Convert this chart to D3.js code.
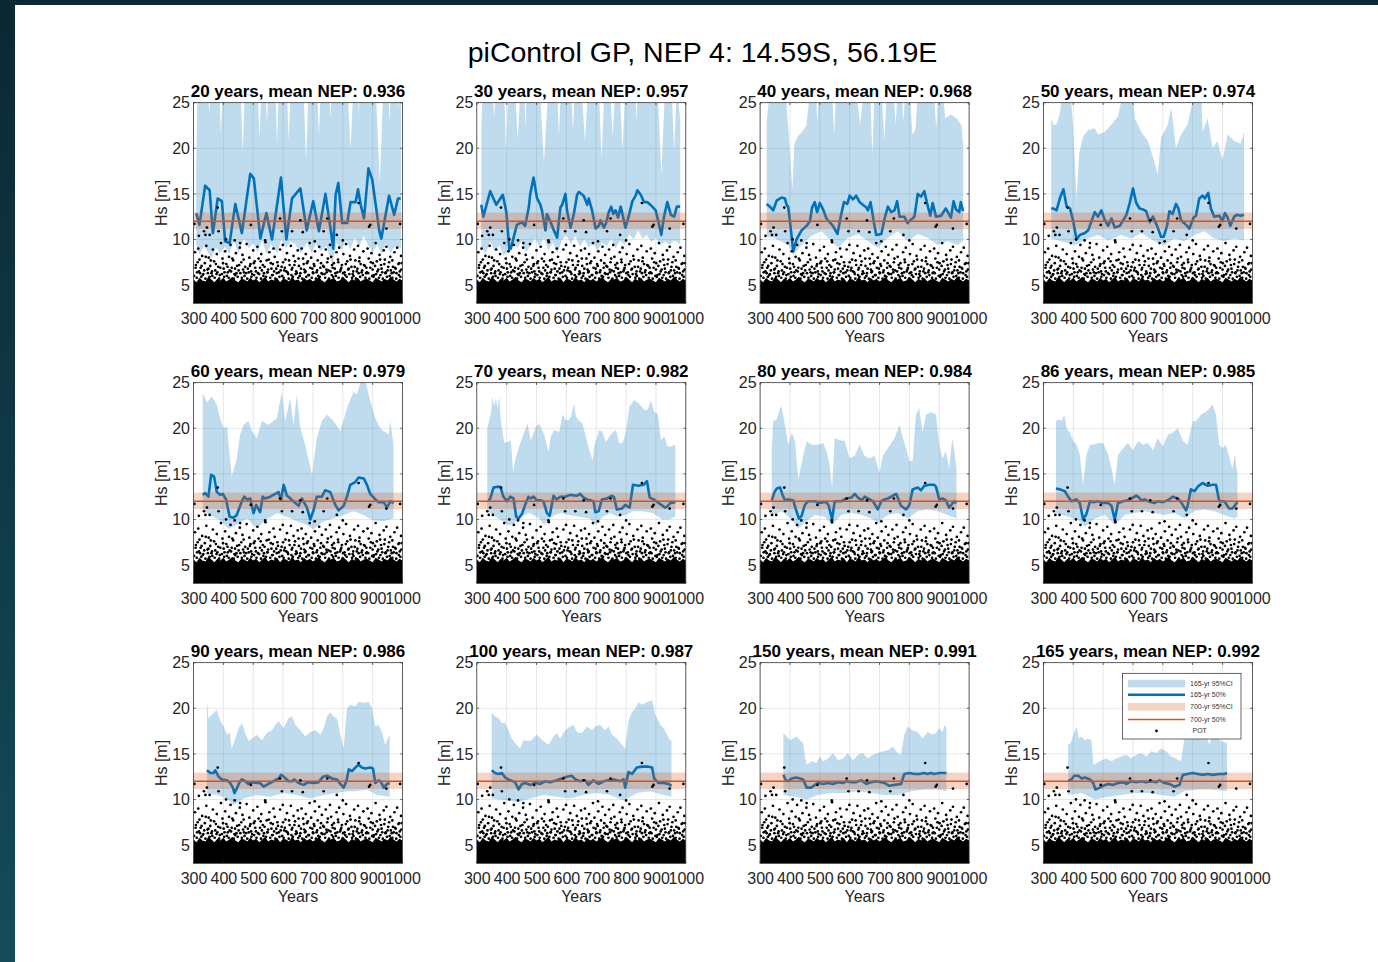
<!DOCTYPE html>
<html><head><meta charset="utf-8">
<script src="https://cdn.jsdelivr.net/npm/d3@7"></script>
<style>
html,body{margin:0;padding:0;background:#fff;}
svg{display:block;font-family:"Liberation Sans",Arial,Helvetica,sans-serif;}
</style></head><body>
<svg id="c" width="1378" height="962"></svg>
<script>
// ---------------- DATA ----------------
const figTitle = "piControl GP, NEP 4: 14.59S, 56.19E";
const windowYears = [20,30,40,50,60,70,80,86,90,100,150,165];
const meanNEP = [0.936,0.957,0.968,0.974,0.979,0.982,0.984,0.985,0.986,0.987,0.991,0.992];
const xTickValues = [300,400,500,600,700,800,900,1000];
const yTickValues = [5,10,15,20,25];
const ci700 = [11.15, 12.95];   // 700-yr 95%CI
const med700 = 12.0;            // 700-yr 50%
const legendLabels = ["165-yr 95%CI","165-yr 50%","700-yr 95%CI","700-yr 50%","POT"];

// 20 yr
const yrMed20=[309,320,339,354,365,381,395,406,421,440,462,490,502,524,544,563,593,611,630,658,679,701,720,742,757,768,776,785,798,815,826,843,851,860,871,886,899,922,929,955,972,985,994];
const med20=[12.9,11.6,15.9,15.4,10.7,14.5,14.2,9.8,9.6,13.9,10.7,17.2,16.7,10.1,12.9,10,16.8,10,14.5,15.6,11,14.2,10.9,15,11.6,9,14.9,16.2,11.8,11.8,14.1,14.1,15.5,13.8,12.3,17.8,16.5,11,10.1,14.8,12.7,14.5,14.5];
const yrUp20=[309,314,348,353,358,386,392,398,457,465,472,514,521,528,541,546,551,574,580,586,612,619,626,668,677,686,713,720,727,754,759,764,815,826,836,850,854,858,910,924,936,952,957,962,983,987,991,995];
const up20=[18,27,27,23.7,27,27,21.5,27,27,19.5,27,27,21.1,27,27,22.6,27,27,20.4,27,27,20.8,27,27,18.6,27,27,21.5,27,27,23.3,27,27,20,27,27,23.9,27,27,16.2,27,27,22.9,27,27,24.4,27,26];
const yrLo20=[309,320,335,345,360,375,390,405,420,435,450,470,485,500,515,530,545,560,580,595,610,625,640,660,680,695,710,725,745,765,780,795,810,825,840,855,870,885,900,915,930,945,960,975,995];
const lo20=[9.4,8.3,9.3,8.8,7.9,9.1,8.5,9.2,8.4,9.9,8.5,10.1,9,9.6,8.6,9.9,8.4,9.5,8.5,10,9,9.8,9.5,8.5,9.7,8.5,9.5,8.7,9.3,7.2,9.7,8.8,9.9,8.9,10.2,9.2,10.4,9.4,8.6,9.4,8.4,9.6,8.5,9.3,9];
// 30 yr
const yrMed30=[315,322,345,365,387,399,409,414,434,451,462,474,479,490,502,513,518,530,535,546,558,569,580,586,597,602,614,625,636,642,658,670,675,686,698,709,714,726,734,742,750,757,765,773,782,798,810,821,832,838,849,860,871,888,899,910,918,927,938,950,961,970,981];
const med30=[13.8,12.5,15.3,13.8,14.9,13,8.9,9,11.6,11.9,11.5,13.5,15,16.8,14.5,13.8,13.2,11,12.8,12,11,10.2,13.5,13.8,15,13.2,11.3,12.8,14.9,15.2,14.8,13.8,14.5,13.2,11.2,11.5,12.1,11.3,11.9,13,13.6,12.8,13.2,12.4,13.6,11.3,12.7,14.2,14.8,15.4,14.9,14.1,14.1,13.6,13.2,11.7,10.5,12.5,14.1,12.7,12.5,13.6,13.6];
const yrUp30=[315,320,352,358,364,391,398,405,427,437,447,458,463,468,510,525,540,568,575,582,615,622,629,650,662,674,708,718,728,745,755,765,778,788,798,830,835,840,905,918,931,952,961,970,981];
const up30=[22,27,27,23.3,27,27,19.5,27,27,21,27,27,22.2,27,27,18.5,27,27,21.4,27,27,22,27,27,20.8,27,27,18.8,27,27,21.4,27,27,19.8,27,27,23,27,27,17.1,27,27,19.8,27,23.2];
const yrLo30=[315,330,345,360,375,390,405,420,435,450,465,480,495,510,525,540,555,570,585,600,615,630,645,660,675,690,705,720,735,750,765,780,795,810,825,840,855,870,885,900,915,930,945,960,981];
const lo30=[9.1,8.4,9.8,8.6,9.4,8.2,8.8,9.9,9,9.8,8.6,9.3,10.1,9.2,10.2,8.8,9.7,8.5,9.9,10.5,9.5,10.4,9.2,10,9.1,9.6,8.8,9.7,9.2,10.1,9,9.9,9.4,10.6,10,11,10.1,10.5,9.7,10.2,9.3,9.8,9.4,9.9,9.5];
// 40 yr
const yrMed40=[322,333,344,356,372,383,389,394,400,411,422,439,456,467,474,483,491,500,511,522,533,544,559,570,581,592,600,611,622,633,644,656,661,670,681,689,706,717,728,739,750,759,767,783,794,806,817,828,839,850,859,870,878,889,906,922,939,948,956,967,972,980];
const med40=[13.9,13.6,13.2,14.3,14.6,14.5,13.8,13.6,12,8.7,10,11,11.5,12,13.5,14.1,13,14,13.3,12.3,11.9,11.5,10.6,12.5,14.1,13.9,14.8,14.4,14.8,14.1,13.8,13.5,13.2,14.1,11.9,10.5,10.6,12.3,13.6,13,13.2,14.2,12.5,12.5,11.8,12.2,12.5,15,14.7,15.3,14,12.6,14,12.5,12.6,13.4,12.4,14.2,13.3,13,14.1,13.1];
const yrUp40=[322,330,339,383,395,408,415,428,440,455,470,485,492,498,540,548,556,620,635,650,668,676,684,706,716,726,745,754,762,772,780,788,800,810,820,830,880,890,898,910,920,940,960,975,980];
const up40=[23,25.5,27,27,22,15.5,20.5,21.4,21.8,22.5,27,27,22.8,27,27,21.5,27,27,22.6,27,27,19.3,27,27,20.8,27,27,22.6,27,27,23,27,27,21.5,22,27,27,22.2,27,27,23.3,23.7,23.2,22.5,20.3];
const yrLo40=[322,350,394,411,439,472,506,539,561,594,628,661,694,728,761,794,828,861,894,928,961,980];
const lo40=[10.3,10.1,9.4,8.3,9.4,10.4,10.9,9.8,9.1,10.2,10.6,9.8,9.1,10.2,10.9,9.8,10.6,10.2,9.4,9.8,9.4,9.8];
// 50 yr
const yrMed50=[326,333,344,356,367,378,389,400,411,422,439,450,461,472,483,494,506,517,528,539,556,567,578,589,600,611,622,633,644,656,667,683,694,703,714,722,733,744,752,761,778,789,803,811,822,833,841,852,861,872,889,900,908,917,926,939,948,961,972];
const med50=[13.4,13.4,13.2,14.6,15.5,13.6,13.4,12,10,10.5,10.7,11,12,13,12.5,13.2,12.1,11.5,12.3,11.3,11.5,12.1,12.7,14,15.6,14,13.4,13.3,13.1,11.9,12.5,11.3,10.3,10.3,11.5,13.1,12.8,13.9,13.4,12.1,11.6,11.2,12.4,12.6,14.5,14.8,14.5,15.1,13.4,12.5,12.6,12,12.9,12.4,11.5,12.5,12.7,12.6,12.7];
const yrUp50=[326,335,345,356,367,389,400,411,420,433,450,472,483,506,528,550,572,595,606,628,650,672,683,694,717,728,744,761,783,811,828,833,850,867,883,900,917,939,961,972];
const up50=[23.3,22.5,22.7,24,27,27,22,14.5,19.5,21.3,22,22.2,21.5,21.8,22.6,23.5,27,27,23.3,21.8,20.8,18.5,17.1,21.2,22.6,24.5,20,21.5,22.6,27,27,21.8,23.3,20,20.8,18.7,21.5,20.8,20.5,21.8];
const yrLo50=[326,406,450,483,517,561,594,628,672,706,739,772,806,839,872,906,939,972];
const lo50=[10.1,9.4,10.1,10.5,9.9,10.5,10.1,10.7,9.8,9.4,10.1,9.8,10.5,10.9,10.1,9.8,10.1,9.9];
// 60 yr
const yrMed60=[331,339,350,359,369,378,389,398,409,421,434,445,454,462,470,479,490,501,510,523,532,540,557,574,585,593,602,613,622,630,641,652,663,680,691,702,713,730,741,758,775,786,803,814,825,842,853,870,881,892,909,920,937,948,959,970];
const med60=[12.7,12.9,12.5,14.9,14.7,13,12.7,12.8,12.2,10.3,10.2,10.5,11.3,12,12.5,12.2,12.3,10.7,11.6,10.8,12.5,12.3,12.5,12.8,13,12.1,13.8,12.6,12.4,12.1,11.8,11.5,12.3,11.3,10,11,12.5,12.5,13.2,13,11.6,11,11.5,12.5,13.8,14.1,14.6,14.5,13.8,12.8,12.2,11.9,11.9,11.3,12,11.8];
const yrUp60=[331,345,361,378,389,401,412,428,445,456,468,484,496,512,529,551,579,596,607,624,635,646,658,674,697,713,730,747,769,792,814,836,847,864,875,892,909,926,937,954,959,970];
const up60=[23.9,22.8,23.5,22.6,21.1,20,20.2,14.7,16.7,19.3,20.4,20.8,19.7,18.9,20.8,20.4,21.1,24,20.8,23.3,20.4,23.7,20,18.2,14.9,18.9,20.8,21.5,20.8,19.7,22.2,24,23.7,25.5,25.3,23,21.1,20,19.7,19.3,20.8,18.2];
const yrLo60=[331,356,389,417,445,479,512,540,579,613,646,680,702,736,769,803,836,870,903,937,970];
const lo60=[11,10.5,9.9,9,9.4,10.1,9,9.9,10.7,10.3,9.8,9.4,8.9,9.8,10.1,10.5,10.9,10.5,9.9,9.8,10.1];
// 70 yr
const yrMed70=[339,345,356,373,380,389,401,412,423,432,440,451,462,473,481,490,501,512,523,535,544,557,568,579,596,613,635,646,658,669,680,691,697,708,719,736,753,760,769,786,797,812,823,842,859,870,879,892,909,931,937,948,965];
const med70=[12,12.3,13.5,13.6,13.5,12.5,12,12.5,12.3,10.3,10.1,10.6,11.6,12.5,12.3,12.5,12.1,12.1,12,10.7,10.4,12.6,12.2,12.5,12.5,12.7,12.6,12.8,12.4,12.2,12.1,12,10.8,10.9,12.2,12.3,12.6,12.4,11.1,11.2,11.6,11.3,13.8,13.7,13.8,14.2,12.4,12.2,11.8,11.3,11.4,11.8,11.9];
const yrUp70=[335,347,353,358,364,369,375,380,392,403,414,422,428,442,459,470,481,498,509,526,540,548,559,576,587,598,609,615,626,632,641,654,665,677,688,693,710,721,732,744,755,766,777,788,799,811,827,844,861,872,883,894,906,917,928,939,950,965];
const up70=[20,21.6,23.5,22.4,23.3,22.2,23.5,20.9,18.4,18.5,18.7,15.1,16.5,18,19.6,20.5,18.7,20.2,20.5,19.3,17.4,19.1,19.8,19.6,21.5,20.9,20.9,21.3,22.7,21.3,20.9,20.5,19.1,17.6,16.5,18,19.8,19.6,18.5,19.1,19.5,19.8,18.4,18.4,19.5,22.4,23.1,22.7,22,22,23.1,21.8,21.6,18.7,19.1,18,18,18.2];
const yrLo70=[335,364,386,409,426,448,476,509,526,548,581,609,643,677,699,721,749,771,799,822,855,889,922,945,965];
const lo70=[10.9,10.3,9.8,9.3,9.6,10.3,10.7,10.1,9.4,10.3,10.7,10.5,10.3,10.1,9.4,10.3,10.7,10.3,10.5,10.9,10.9,10.7,10,10,10.3];
// 80 yr
const yrMed80=[339,348,356,367,374,383,394,411,419,430,439,450,461,483,500,511,522,530,541,550,572,589,606,617,628,641,650,667,678,694,706,717,728,744,756,772,789,800,811,828,839,850,867,883,889,900,911,922,933,950,958];
const med80=[12.1,13,13.4,13.5,12.8,12.1,12.2,12.1,11.2,10.1,10.4,11.6,12,12,11.8,11.9,11.9,11.5,10,12,12,12.3,12.4,12.8,12.4,12.1,12.5,12.2,12,11.1,12,12.2,12.3,12.6,12.8,11.5,11.1,11.6,13.3,13.5,13.2,13.7,13.8,13.8,13.6,12.2,12.3,12.1,11.3,12,11.8];
const yrUp80=[339,344,356,367,372,383,394,406,417,428,433,444,456,472,494,511,522,533,541,550,567,583,600,617,633,650,667,683,700,711,728,750,767,778,789,800,811,822,833,844,856,872,889,900,911,922,933,944,950,958];
const up80=[17.8,20.8,21,22.2,22.4,20.4,18.2,19.5,18.6,14.4,15.1,17,18.6,18.2,18.2,18.4,17.5,16,13.4,18.9,18.7,18.6,16.7,17,18.2,17,16.7,17,15.1,17,17.8,18.9,20.4,18.9,17.8,16.4,16.4,21.5,22.2,19.6,21.5,21.8,21.5,18.2,16.7,17.5,15.6,18.9,17.5,15.6];
const yrLo80=[339,372,406,428,450,483,517,541,572,606,639,672,694,728,761,794,828,861,894,928,958];
const lo80=[10.5,10.9,10,9,9.7,10.5,10.3,9.4,10.5,10.7,10.5,10.1,9.7,10.5,10.7,10.1,10.9,11.1,10.9,10.5,10.1];
// 86 yr
const yrMed86=[342,356,372,383,394,411,422,433,444,456,467,483,500,517,528,539,550,567,583,594,611,617,628,639,650,672,683,700,717,733,750,761,778,783,794,806,817,833,850,867,878,889,906,922,933,950];
const med86=[13.4,13.3,13.1,12.5,12,12.2,11.8,10,10.6,12,11.9,12,11.8,11.8,11.5,10,11.8,12,12.1,12.3,12.6,12.5,12.1,12.2,12,11.8,12,11.9,12.1,12.5,12.3,11.9,11,11.5,13.3,13.1,13.6,14,13.7,13.8,13.8,12,12,11.2,11.2,11.9];
const yrUp86=[342,350,361,370,378,389,400,411,422,433,444,456,467,483,500,517,528,539,550,567,583,600,617,633,650,667,683,700,717,733,750,767,783,800,811,828,844,856,867,878,889,900,911,922,933,941,950];
const up86=[20.8,21,20.8,21.5,20,19.5,18.6,18.2,17.1,13.8,17.1,18.2,18.2,18.4,18.4,17.1,15.6,13.8,17.1,17.8,18.4,17.6,18.6,18.2,18.4,17.6,18.9,18,19.3,19.5,20,18.6,18.2,20.8,20.8,21.5,21.8,22.2,22.6,21.5,18.2,17.8,18.2,16.9,15.6,17.1,14.9];
const yrLo86=[342,383,422,439,472,506,539,572,606,639,672,706,739,772,806,839,872,906,939,950];
const lo86=[10.7,10.3,9.8,9.2,10.1,10.5,9.4,10.5,10.7,10.9,10.7,10.5,10.7,10.1,10.9,11.1,10.9,10.5,10.1,10.3];
// 90 yr
const yrMed90=[345,356,367,373,384,395,412,423,432,437,445,454,462,473,484,496,512,523,535,551,568,585,593,602,618,630,637,652,669,685,702,719,734,747,764,780,792,803,812,820,831,842,853,864,875,892,901,909,920,928,937,948,957];
const med90=[13.2,12.9,12.9,13.2,12.5,12.2,12.1,11.8,11.3,10.7,11.2,11.9,12.2,12,11.7,11.9,11.8,11.8,11.4,11.7,12,12.3,12.7,12.5,12,12,12.2,11.8,11.6,11.9,11.8,11.9,12.5,12.6,12.3,12.2,11.7,11.3,12,13.3,13.1,13.5,13.8,13.5,13.4,13.5,13.4,11.8,12.1,11.9,11.3,11.7,11.8];
const yrUp90=[345,350,361,378,389,401,412,421,428,440,451,462,473,484,496,512,529,546,563,574,585,602,618,630,641,658,674,691,708,725,736,747,758,769,780,792,803,814,825,842,853,870,887,898,909,920,931,942,954,957];
const up90=[20.9,18.9,19.3,19.8,18.7,18,17.1,17.4,15.6,16.7,17.8,18.4,17.3,16.4,16.7,17.1,16.5,17.3,17.6,18.2,18.6,17.8,18.9,19.1,18.2,17.6,16.9,17.4,17.6,17.1,17.8,19.1,19.6,19.1,18.9,17.1,15.6,20,20.4,20.2,20.7,20.6,20.7,20,18,18.2,17.4,16,16.9,17.1];
const yrLo90=[345,378,412,434,468,512,557,602,647,691,736,780,814,847,881,914,957];
const lo90=[10.7,10.5,10.1,9.4,10.1,10.5,10.3,10.7,10.5,10.1,10.5,10.7,10.9,10.9,11.1,10.5,10.3];
// 100 yr
const yrMed100=[350,361,373,384,395,412,428,440,451,462,479,496,512,529,546,568,585,602,618,630,646,663,674,691,708,725,741,758,780,792,797,808,820,836,853,875,887,894,909,926,942,952];
const med100=[13.2,12.9,12.8,12.9,12.4,12.1,11.9,11.1,11.7,11.8,11.6,11.8,11.7,12,11.9,12.1,12.3,12.5,12.6,12.2,12,12.1,11.6,12.1,11.7,12,12.1,12.2,12,12.2,11.3,13,12.8,13.5,13.6,13.6,13.5,12.3,11.8,11.8,11.7,11.5];
const yrUp100=[350,361,373,384,395,406,417,428,445,456,479,501,523,540,557,568,579,596,613,624,635,652,669,685,697,713,730,741,753,769,786,797,808,820,831,842,853,870,887,898,915,926,937,948,952];
const up100=[19.5,19.1,18.9,18.4,18.4,17.6,16.7,16.2,15.6,16.5,16.4,17.1,16.4,16,16.9,17.3,16.7,17.6,18,18.2,17.4,17.3,18,17.6,18,18.2,17.6,18,17.1,16.7,16,15.6,18.6,19.6,20,20.7,20.4,20.7,20.9,19.3,18.2,17.8,17.1,16.4,16.7];
const yrLo100=[350,401,440,479,523,568,613,658,702,747,792,836,881,926,952];
const lo100=[10.1,9.9,9.7,10.1,10.5,10.3,10.1,10.5,10.7,10.5,9.9,10.7,10.9,10.5,10.3];
// 150 yr
const yrMed150=[378,386,394,406,422,433,444,456,472,483,494,511,528,544,561,578,589,606,622,639,656,672,689,706,717,733,750,772,783,800,817,833,850,861,872,883,900,924];
const med150=[12.7,12.1,12,12.3,12.4,12.3,12.2,11.3,11.3,11.6,11.8,11.7,11.8,11.7,11.9,11.8,12,11.9,11.9,12.1,11.7,11.9,12,11.9,11.8,11.5,11.6,11.7,12.8,12.9,12.8,12.8,12.9,12.8,12.9,12.8,12.9,12.9];
const yrUp150=[378,389,400,411,422,433,444,450,456,472,489,500,511,528,544,561,578,594,611,628,644,661,678,694,711,728,744,761,772,783,794,811,828,844,861,878,889,900,911,919,924];
const up150=[17.3,16.9,16.5,16.7,16.9,16.5,16.2,14.7,13.8,14.2,14,14.7,14.2,14.5,15.1,14.3,14.5,15.1,14.3,14.9,15.1,14.5,14.9,15.1,15.3,15.4,15.8,15.1,14.9,17.1,18,17.6,17.4,16.7,17.4,17.1,17.3,17.8,17.4,18.2,17.8];
const yrLo150=[378,417,456,494,539,583,628,672,717,761,806,850,894,924];
const lo150=[10.5,10.3,10,10.5,10.7,10.7,10.9,10.7,10.5,10.5,10.9,11.1,11.1,10.9];
// 165 yr
const yrMed165=[383,394,403,417,428,439,456,467,474,489,500,517,533,550,567,578,594,611,628,644,661,678,689,706,722,739,756,767,783,800,817,833,850,867,889,906,915];
const med165=[12,12.2,12.6,12.6,12.3,12.4,12.2,11.8,11.1,11.3,11.5,11.7,11.6,11.8,11.9,11.7,12,11.9,12,11.9,12,11.9,12.1,11.8,11.7,11.4,11.6,12.7,12.8,12.9,12.8,12.7,12.8,12.7,12.8,12.8,12.9];
const yrUp165=[383,392,400,411,419,428,439,450,461,467,478,494,511,528,544,561,578,594,611,628,644,661,678,694,711,728,744,761,772,783,794,811,828,844,856,867,883,894,915];
const up165=[16,16.2,17.1,18,16.7,16.9,16.5,16.7,16.5,13.8,14,14.3,14.5,14.2,14.5,14.7,14.9,14.5,14.9,15.1,14.7,15.3,15.1,15.6,15.3,14.7,14.5,14.2,16.7,17.1,17.6,17.8,17.4,17.1,16,17.4,16.7,16.4,16.2];
const yrLo165=[383,428,472,517,561,606,650,694,739,772,817,861,915];
const lo165=[10.5,10.7,10,10.3,10.5,10.7,10.7,10.5,10.3,10.9,11.1,11.1,10.9];

// POT (peaks over threshold), same events in every panel: [year, Hs]
const potHigh=[[303,11.7],[318,10.4],[335,10.9],[340,10.5],[345,11.3],[354,10.5],[381,13.5],[384,10.9],[409,10.0],[438,9.9],[456,9.6],[492,11.6],[540,9.9],[590,12.3],[596,10.9],[630,10.9],[658,12.1],[666,10.8],[706,9.8],[736,10.9],[748,12.3],[780,10.5],[800,9.9],[853,14.0],[888,11.4],[892,11.6],[946,11.2],[992,11.7]];
const potMid=[[305,8.6],[308,7.2],[312,6.4],[316,9.0],[320,7.8],[324,6.9],[329,8.2],[333,6.2],[338,7.4],[343,9.3],[347,6.7],[351,8.0],[356,7.1],[360,6.3],[365,8.9],[369,7.6],[373,6.6],[378,8.4],[383,7.0],[388,6.1],[392,9.6],[397,7.9],[401,6.8],[406,8.7],[410,7.3],[415,6.4],[419,8.1],[424,9.4],[428,6.9],[433,7.7],[437,6.2],[442,8.5],[446,7.1],[451,6.6],[455,9.1],[460,7.5],[464,8.3],[469,6.4],[473,7.0],[478,9.5],[482,6.8],[487,8.0],[491,7.3],[496,6.2],[500,8.8],[505,7.6],[509,6.5],[514,9.2],[518,7.9],[523,6.9],[527,8.4],[532,7.2],[536,6.3],[541,9.7],[545,7.7],[550,6.7],[554,8.6],[559,7.4],[563,6.1],[568,9.0],[572,8.1],[577,6.8],[581,7.5],[586,6.4],[590,8.9],[595,7.0],[599,9.4],[604,6.6],[608,7.8],[613,8.5],[617,6.2],[622,7.2],[626,9.3],[631,6.9],[635,8.2],[640,7.6],[644,6.5],[649,8.8],[653,7.1],[658,6.3],[662,9.0],[667,7.9],[671,6.7],[676,8.4],[680,7.4],[685,6.1],[689,9.6],[694,8.0],[698,6.8],[703,7.3],[707,8.7],[712,6.4],[716,7.7],[721,9.2],[725,6.9],[730,8.3],[734,7.1],[739,6.2],[743,8.9],[748,7.5],[752,6.6],[757,9.4],[761,8.1],[766,6.9],[770,7.4],[775,6.3],[779,8.6],[784,7.8],[788,9.1],[793,6.7],[797,7.2],[802,8.4],[806,6.4],[811,9.5],[815,7.6],[820,6.8],[824,8.2],[829,7.0],[833,6.2],[838,8.9],[842,7.7],[847,6.5],[851,9.3],[856,8.0],[860,7.3],[865,6.6],[869,8.7],[874,7.1],[878,6.3],[883,9.0],[887,7.9],[892,6.9],[896,8.5],[901,7.4],[905,6.1],[910,9.6],[914,7.6],[919,6.7],[923,8.3],[928,7.2],[932,6.4],[937,8.8],[941,7.8],[946,9.2],[950,6.6],[955,7.5],[959,8.1],[964,6.3],[968,7.0],[973,8.6],[977,6.8],[982,9.1],[986,7.3],[991,6.5],[995,8.2],[998,7.4]];
const potLow=[[302,6.0],[311,5.8],[318,6.5],[326,5.9],[331,6.1],[340,5.7],[348,6.3],[354,5.9],[363,6.0],[371,5.8],[380,6.4],[386,5.7],[395,6.2],[403,5.9],[412,6.0],[418,5.8],[426,6.5],[435,5.7],[440,6.1],[448,5.9],[457,6.3],[462,5.8],[471,6.0],[480,5.7],[485,6.4],[494,5.9],[503,6.1],[511,5.8],[520,6.2],[526,5.7],[534,6.0],[543,5.9],[548,6.4],[557,5.8],[565,6.1],[574,5.7],[579,6.3],[588,5.9],[597,6.0],[602,5.8],[611,6.5],[619,5.7],[628,6.1],[633,5.9],[642,6.2],[651,5.8],[656,6.0],[664,5.7],[673,6.4],[678,5.9],[687,6.1],[696,5.8],[701,6.3],[710,5.7],[718,6.0],[723,5.9],[732,6.2],[741,5.8],[746,6.4],[754,5.7],[763,6.1],[768,5.9],[777,6.0],[786,5.8],[791,6.5],[799,5.7],[808,6.1],[813,5.9],[822,6.2],[831,5.8],[836,6.0],[844,5.7],[853,6.3],[858,5.9],[867,6.1],[876,5.8],[881,6.4],[889,5.7],[898,6.0],[903,5.9],[912,6.2],[921,5.8],[926,6.1],[934,5.7],[943,6.3],[948,5.9],[957,6.0],[966,5.8],[971,6.4],[979,5.7],[988,6.1],[993,5.9]];
const potExtra=[[307,6.9],[314,7.5],[322,6.3],[327,7.1],[336,6.6],[341,8.1],[350,6.8],[358,7.7],[362,6.5],[375,7.3],[377,6.2],[390,6.9],[399,7.4],[404,6.4],[414,7.0],[421,6.6],[430,7.9],[439,6.8],[444,6.3],[453,7.2],[466,6.7],[468,7.8],[476,6.3],[489,7.1],[493,6.5],[502,7.4],[507,6.9],[516,6.3],[525,7.6],[529,6.6],[538,7.0],[547,6.4],[552,7.8],[561,6.8],[566,7.3],[570,6.5],[583,7.1],[592,6.6],[600,7.5],[606,6.9],[615,6.4],[620,7.7],[629,6.7],[638,7.2],[646,6.3],[652,7.9],[660,6.8],[669,7.3],[675,6.5],[683,7.6],[691,6.9],[700,6.4],[705,7.1],[714,6.6],[727,7.4],[729,6.3],[737,7.0],[745,6.7],[750,7.9],[759,6.5],[764,7.2],[773,6.8],[782,6.4],[785,7.5],[795,6.9],[801,6.3],[810,7.3],[818,6.7],[826,7.8],[835,6.5],[840,7.0],[849,6.8],[855,7.6],[863,6.4],[871,7.2],[879,6.9],[885,6.3],[894,7.5],[900,6.7],[908,7.1],[916,6.5],[925,7.8],[930,6.8],[939,7.3],[944,6.4],[952,7.0],[961,6.6],[966,7.7],[975,6.9],[980,6.3],[989,7.4],[996,6.7]];
// upper edge of the saturated POT cloud (every 10 years, 300..1000)
const potDenseTop=[5.6,5.3,5.8,5.5,5.4,5.9,5.6,5.3,5.7,5.5,5.8,5.4,5.6,5.9,5.5,5.3,5.7,5.6,5.4,5.8,5.5,5.7,5.3,5.6,5.9,5.4,5.6,5.5,5.8,5.3,5.7,5.6,5.4,5.9,5.5,5.6,5.3,5.8,5.5,5.7,5.4,5.6,5.9,5.5,5.3,5.7,5.6,5.8,5.4,5.5,5.9,5.6,5.3,5.7,5.5,5.8,5.4,5.6,5.7,5.5,5.3,5.8,5.6,5.4,5.7,5.5,5.9,5.6,5.4,5.7,5.5];

// ---------------- BUILD ----------------
const seriesByWindow = {
  20:[yrMed20,med20,yrUp20,up20,yrLo20,lo20], 30:[yrMed30,med30,yrUp30,up30,yrLo30,lo30],
  40:[yrMed40,med40,yrUp40,up40,yrLo40,lo40], 50:[yrMed50,med50,yrUp50,up50,yrLo50,lo50],
  60:[yrMed60,med60,yrUp60,up60,yrLo60,lo60], 70:[yrMed70,med70,yrUp70,up70,yrLo70,lo70],
  80:[yrMed80,med80,yrUp80,up80,yrLo80,lo80], 86:[yrMed86,med86,yrUp86,up86,yrLo86,lo86],
  90:[yrMed90,med90,yrUp90,up90,yrLo90,lo90], 100:[yrMed100,med100,yrUp100,up100,yrLo100,lo100],
  150:[yrMed150,med150,yrUp150,up150,yrLo150,lo150], 165:[yrMed165,med165,yrUp165,up165,yrLo165,lo165]
};
const potAll = potHigh.concat(potMid, potLow, potExtra);
const denseYears = d3.range(300, 1001, 10);
const dense = d3.zip(denseYears, potDenseTop);

const FONT = '"Liberation Sans",Arial,Helvetica,sans-serif';
const BLUE = "#0072bd", ORANGE = "#d95319", AXC = "#262626";
const svg = d3.select("#c");
const defs = svg.append("defs");
const grad = defs.append("linearGradient").attr("id","edge").attr("x1",0).attr("y1",0).attr("x2",0).attr("y2",1);
grad.append("stop").attr("offset","0%").attr("stop-color","#0b2833");
grad.append("stop").attr("offset","100%").attr("stop-color","#154b59");
svg.append("rect").attr("width",1378).attr("height",962).attr("fill","url(#edge)");
svg.append("rect").attr("x",15).attr("y",5).attr("width",1363).attr("height",957).attr("fill","#fff");

svg.append("text").attr("x",702.5).attr("y",62).attr("text-anchor","middle")
  .attr("font-family",FONT).attr("font-size",28.5).attr("fill","#000").text(figTitle);

const W = 209, H = 200.6;
const colX = [193.5, 476.8, 760.1, 1043.4];
const rowY = [102.7, 382.7, 662.7];
const x = d3.scaleLinear().domain([300,1000]).range([0,W]);
const y = d3.scaleLinear().domain([3,25]).range([H,0]);
const line = d3.line().x(d=>x(d[0])).y(d=>y(d[1]));
const denseArea = d3.area().x(d=>x(d[0])).y0(y(2)).y1(d=>y(d[1]));

windowYears.forEach((n,i)=>{
  const [ym,vm,yu,vu,yl,vl] = seriesByWindow[n];
  const med = d3.zip(ym,vm), up = d3.zip(yu,vu), lo = d3.zip(yl,vl);
  const left = colX[i%4], top = rowY[Math.floor(i/4)];
  const g = svg.append("g").attr("transform",`translate(${left},${top})`);
  defs.append("clipPath").attr("id","clip"+i).append("rect").attr("width",W).attr("height",H);

  // grid
  g.append("g").selectAll("line").data(xTickValues).join("line")
    .attr("x1",d=>x(d)).attr("x2",d=>x(d)).attr("y1",0).attr("y2",H)
    .attr("stroke","#dcdcdc").attr("stroke-width",0.7);
  g.append("g").selectAll("line").data(yTickValues).join("line")
    .attr("y1",d=>y(d)).attr("y2",d=>y(d)).attr("x1",0).attr("x2",W)
    .attr("stroke","#dcdcdc").attr("stroke-width",0.7);

  const p = g.append("g").attr("clip-path",`url(#clip${i})`);
  p.append("path").attr("d", line(up.concat(lo.slice().reverse()))+"Z")
    .attr("fill",BLUE).attr("fill-opacity",0.25);
  p.append("path").attr("d", line(med)).attr("fill","none").attr("stroke",BLUE)
    .attr("stroke-width",2.6).attr("stroke-linejoin","round");
  p.append("rect").attr("x",x(300)).attr("width",x(1000)-x(300))
    .attr("y",y(ci700[1])).attr("height",y(ci700[0])-y(ci700[1]))
    .attr("fill",ORANGE).attr("fill-opacity",0.25);
  p.append("line").attr("x1",x(300)).attr("x2",x(1000)).attr("y1",y(med700)).attr("y2",y(med700))
    .attr("stroke",ORANGE).attr("stroke-width",1.3);
  p.append("path").attr("d", denseArea(dense)).attr("fill","#000");
  p.append("g").selectAll("circle").data(potAll).join("circle")
    .attr("cx",d=>x(d[0])).attr("cy",d=>y(d[1])).attr("r",1.35).attr("fill","#000");

  // box + inner ticks
  g.append("rect").attr("width",W).attr("height",H).attr("fill","none")
    .attr("stroke",AXC).attr("stroke-width",0.7);
  const tk = g.append("g").attr("stroke",AXC).attr("stroke-width",0.7);
  xTickValues.forEach(v=>{
    tk.append("line").attr("x1",x(v)).attr("x2",x(v)).attr("y1",H).attr("y2",H-2.2);
    tk.append("line").attr("x1",x(v)).attr("x2",x(v)).attr("y1",0).attr("y2",2.2);
  });
  yTickValues.forEach(v=>{
    tk.append("line").attr("y1",y(v)).attr("y2",y(v)).attr("x1",0).attr("x2",2.2);
    tk.append("line").attr("y1",y(v)).attr("y2",y(v)).attr("x1",W).attr("x2",W-2.2);
  });

  // axes labels (d3 axes)
  const ax = g.append("g").attr("transform",`translate(0,${H})`)
    .call(d3.axisBottom(x).tickValues(xTickValues).tickSize(0).tickPadding(9.8).tickFormat(d3.format("d")));
  ax.select(".domain").remove();
  ax.attr("font-size",16).attr("font-family",FONT).selectAll("text").attr("fill",AXC);
  const ay = g.append("g")
    .call(d3.axisLeft(y).tickValues(yTickValues).tickSize(0).tickPadding(3.5));
  ay.select(".domain").remove();
  ay.attr("font-size",16).attr("font-family",FONT).selectAll("text").attr("fill",AXC);

  g.append("text").attr("x",W/2).attr("y",H+39).attr("text-anchor","middle")
    .attr("font-family",FONT).attr("font-size",16).attr("fill",AXC).text("Years");
  g.append("text").attr("transform",`translate(-26.5,${H/2}) rotate(-90)`).attr("text-anchor","middle")
    .attr("font-family",FONT).attr("font-size",16).attr("fill",AXC).text("Hs [m]");
  g.append("text").attr("x",W/2).attr("y",-5.3).attr("text-anchor","middle")
    .attr("font-family",FONT).attr("font-size",17).attr("font-weight","bold").attr("fill","#000")
    .text(`${n} years, mean NEP: ${d3.format(".3f")(meanNEP[i])}`);

  // legend in last panel
  if (i === windowYears.length-1) {
    const lg = svg.append("g").attr("transform","translate(1122.5,673.3)");
    lg.append("rect").attr("width",118.5).attr("height",65.7).attr("fill","#fff")
      .attr("stroke",AXC).attr("stroke-width",0.7);
    const rows = [10.3, 21.5, 33.5, 46.2, 57.6];
    lg.append("rect").attr("x",5.5).attr("width",57).attr("y",rows[0]-3.8).attr("height",7.6).attr("fill",BLUE).attr("fill-opacity",0.25);
    lg.append("line").attr("x1",5.5).attr("x2",62.5).attr("y1",rows[1]).attr("y2",rows[1]).attr("stroke",BLUE).attr("stroke-width",2.6);
    lg.append("rect").attr("x",5.5).attr("width",57).attr("y",rows[2]-3.8).attr("height",7.6).attr("fill",ORANGE).attr("fill-opacity",0.25);
    lg.append("line").attr("x1",5.5).attr("x2",62.5).attr("y1",rows[3]).attr("y2",rows[3]).attr("stroke",ORANGE).attr("stroke-width",1.3);
    lg.append("circle").attr("cx",34).attr("cy",rows[4]).attr("r",1.35).attr("fill","#000");
    lg.selectAll("text").data(legendLabels).join("text")
      .attr("x",(d,k)=>k===4?70:67.5).attr("y",(d,k)=>rows[k]).attr("dy","0.35em")
      .attr("font-family",FONT).attr("font-size",7).attr("fill","#333").text(d=>d);
  }
});
</script>
</body></html>
